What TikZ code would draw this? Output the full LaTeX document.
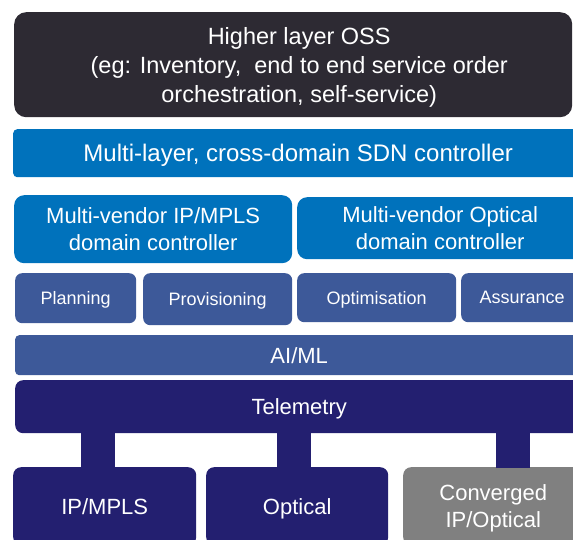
\documentclass[tikz,border=0pt]{standalone}
\usepackage{fontspec}
\setmainfont{Liberation Sans}

\definecolor{ossgrey}{HTML}{2D2A33}
\definecolor{sdnblue}{HTML}{0072BC}
\definecolor{midblue}{HTML}{3D5999}
\definecolor{navy}{HTML}{231F70}
\definecolor{netgrey}{HTML}{808080}

\tikzset{
	layer/.style={anchor=north west, inner sep=0pt, text=white, align=center, text depth=0pt, font=\fontsize{22}{26.5}\selectfont},
	small/.style={layer, font=\fontsize{18}{21}\selectfont},
	stub/.style={navy, line width=34pt, shorten <=-1pt, shorten >=-1pt}
}

\begin{document}
\begin{tikzpicture}[x=1pt, y=-1pt]
		\path[use as bounding box, clip] (0,0) rectangle (573,540);

		\node[layer, fill=ossgrey, rounded corners=12pt, minimum width=558pt, minimum height=105pt, font=\fontsize{23.5}{29}\selectfont] (oss) at (14,12) {\hspace*{12pt}Higher layer OSS\\\hspace*{12pt}(eg: Inventory,\ \ end to end service order\\\hspace*{12pt}orchestration, self-service)};
		\node[layer, fill=sdnblue, rounded corners=4pt, minimum width=570pt, minimum height=48pt, font=\fontsize{24}{29}\selectfont] (sdn) at (13,129) {Multi-layer, cross-domain SDN controller};

		\node[layer, fill=sdnblue, rounded corners=10pt, minimum width=278pt, minimum height=68pt] (dcip) at (14,195) {Multi-vendor IP/MPLS\\domain controller};
		\node[layer, fill=sdnblue, rounded corners=10pt, minimum width=286pt, minimum height=62pt] (dcopt) at (297,197) {Multi-vendor Optical\\domain controller};

		\node[small, fill=midblue, rounded corners=7pt, minimum width=121pt, minimum height=50pt] (plan) at (15,273) {Planning};
		\node[small, fill=midblue, rounded corners=7pt, minimum width=149pt, minimum height=52pt] (prov) at (143,273) {Provisioning};
		\node[small, fill=midblue, rounded corners=7pt, minimum width=159pt, minimum height=49pt] (optim) at (297,273) {Optimisation};
		\node[small, fill=midblue, rounded corners=7pt, minimum width=122pt, minimum height=49pt] (assur) at (461,273) {Assurance};

		\node[layer, fill=midblue, rounded corners=4pt, minimum width=568pt, minimum height=40pt] (aiml) at (15,335) {AI/ML};
		\node[layer, fill=navy, rounded corners=8pt, minimum width=568pt, minimum height=53pt] (tel) at (15,380) {Telemetry};

		\node[layer, fill=navy, rounded corners=8pt, minimum width=183pt, minimum height=78pt] (ipmpls) at (13,467) {IP/MPLS};
		\node[layer, fill=navy, rounded corners=8pt, minimum width=182pt, minimum height=78pt] (optical) at (206,467) {Optical};
		\node[layer, fill=netgrey, rounded corners=8pt, minimum width=180pt, minimum height=78pt] (conv) at (403,467) {Converged\\IP/Optical};

		\draw[stub] ([xshift=-6.5pt]ipmpls.north) -- ([xshift=-6.5pt]ipmpls.north |- tel.south);
		\draw[stub] ([xshift=-3pt]optical.north) -- ([xshift=-3pt]optical.north |- tel.south);
		\draw[stub] ([xshift=20pt]conv.north) -- ([xshift=20pt]conv.north |- tel.south);

	\end{tikzpicture}
\end{document}
